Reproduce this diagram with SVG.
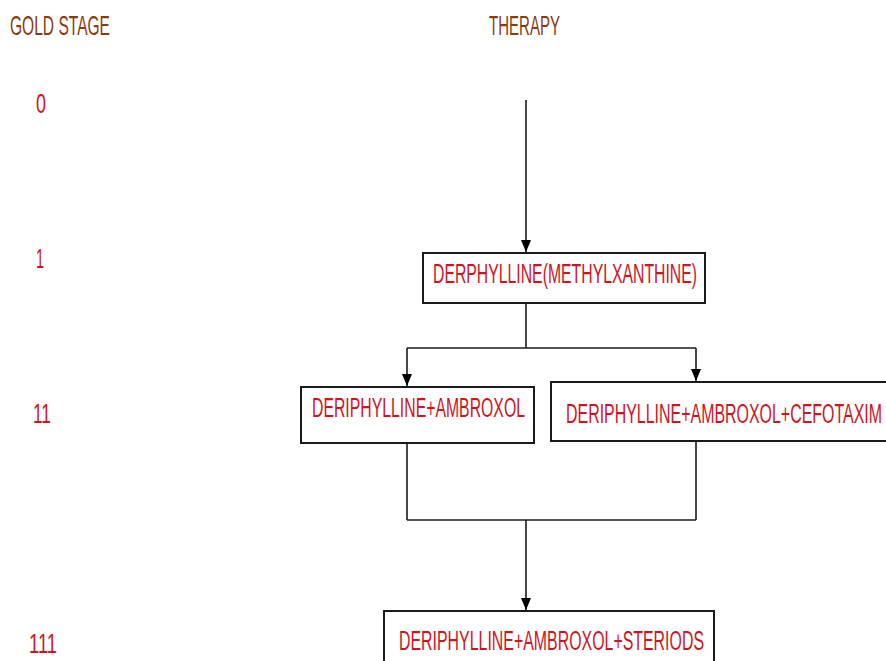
<svg xmlns="http://www.w3.org/2000/svg" width="886" height="661" viewBox="0 0 886 661">
<defs>
<marker id="ah" markerWidth="12" markerHeight="10" refX="12" refY="5" orient="auto" markerUnits="userSpaceOnUse" viewBox="0 0 12 10">
<path d="M0,0 L12,5 L0,10 Z" fill="#000"/>
</marker>
</defs>
<style>
.hd{font-family:"Liberation Sans",Arial,sans-serif;font-size:28px;fill:#8B3A0E}
.st{font-family:"Liberation Sans",Arial,sans-serif;font-size:28px;fill:#D0141E}
.lb{font-family:"Liberation Sans",Arial,sans-serif;font-size:27px;fill:#D0141E}
.bx{fill:#fff;stroke:#1a1a1a;stroke-width:2}
.cn{fill:none;stroke:#1a1a1a;stroke-width:1.6}
</style>
<rect width="886" height="661" fill="#fff"/>
<g id="headers">
<text class="hd" x="10" y="35" textLength="100" lengthAdjust="spacingAndGlyphs">GOLD STAGE</text>
<text class="hd" x="489" y="35" textLength="71" lengthAdjust="spacingAndGlyphs">THERAPY</text>
</g>
<g id="stages">
<text class="st" x="36" y="113" textLength="10" lengthAdjust="spacingAndGlyphs">0</text>
<text class="st" x="36" y="268" textLength="8" lengthAdjust="spacingAndGlyphs">1</text>
<text class="st" x="33" y="423" textLength="18" lengthAdjust="spacingAndGlyphs">11</text>
<text class="st" x="29" y="653" textLength="28" lengthAdjust="spacingAndGlyphs">111</text>
</g>
<g id="connectors">
<line class="cn" x1="526" y1="100" x2="526" y2="252" marker-end="url(#ah)"/>
<line class="cn" x1="526" y1="304" x2="526" y2="348"/>
<line class="cn" x1="407" y1="348" x2="696" y2="348"/>
<line class="cn" x1="407" y1="348" x2="407" y2="386" marker-end="url(#ah)"/>
<line class="cn" x1="696" y1="348" x2="696" y2="381" marker-end="url(#ah)"/>
<line class="cn" x1="407" y1="444" x2="407" y2="520"/>
<line class="cn" x1="696" y1="442" x2="696" y2="520"/>
<line class="cn" x1="407" y1="520" x2="696" y2="520"/>
<line class="cn" x1="526" y1="520" x2="526" y2="610" marker-end="url(#ah)"/>
</g>
<g id="node1">
<rect class="bx" x="423" y="253" width="282" height="50"/>
<text class="lb" x="433" y="283" textLength="264" lengthAdjust="spacingAndGlyphs">DERPHYLLINE(METHYLXANTHINE)</text>
</g>
<g id="node2">
<rect class="bx" x="301" y="387" width="233" height="56"/>
<text class="lb" x="312" y="417" textLength="213" lengthAdjust="spacingAndGlyphs">DERIPHYLLINE+AMBROXOL</text>
</g>
<g id="node3">
<rect class="bx" x="551" y="382" width="340" height="59"/>
<text class="lb" x="566" y="423" textLength="316" lengthAdjust="spacingAndGlyphs">DERIPHYLLINE+AMBROXOL+CEFOTAXIM</text>
</g>
<g id="node4">
<rect class="bx" x="384" y="611" width="330" height="60"/>
<text class="lb" x="399" y="650" textLength="305" lengthAdjust="spacingAndGlyphs">DERIPHYLLINE+AMBROXOL+STERIODS</text>
</g>
</svg>
